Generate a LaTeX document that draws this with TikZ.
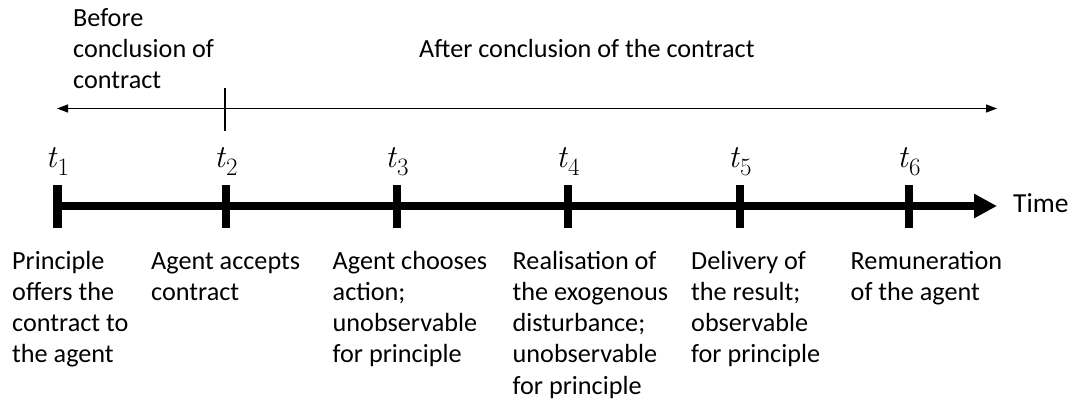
\documentclass[tikz,border=0pt]{standalone}
\usepackage{fontspec}
\setmainfont{Carlito}
\newfontfamily\lmfont{Latin Modern Roman}
\usetikzlibrary{arrows.meta}

\begin{document}
\begin{tikzpicture}[x=1pt,y=-1pt,
  txt/.style={inner sep=0pt, anchor=base west, align=left,
    font=\fontsize{26.2}{31.2}\selectfont},
  tlab/.style={inner sep=0pt, anchor=base},
  axis/.style={line width=8pt, -{Triangle[length=23pt,width=23pt]}},
  tickmark/.style={line width=8.5pt},
  span/.style={line width=1.3pt, {Triangle[length=11pt,width=8pt]}-{Triangle[length=11pt,width=8pt]}},
  divider/.style={line width=1.3pt}
]
\useasboundingbox (0,0) rectangle (1077,404);

% tick positions on the time axis
\foreach \i/\x in {1/57.5,2/226,3/397,4/568,5/740,6/909}{
  \coordinate (top\i) at (\x,185);
  \coordinate (bot\i) at (\x,228);
  \coordinate (lab\i) at (\x,167);
}
\coordinate (axisstart) at (57.5,206);
\coordinate (axisend) at (997,206);

% main time axis
\draw[axis] (axisstart) -- (axisend);
\foreach \i in {1,...,6}{
  \draw[tickmark] (top\i) -- (bot\i);
}
\node[inner sep=0pt, anchor=base west, font=\fontsize{27.5}{30}\selectfont] (time) at (1013,212) {Time};

% time point labels: italic t with a lowered index
\foreach \i in {1,...,6}{
  \node[tlab] (t\i) at (lab\i) {\lmfont\fontsize{32}{34}\selectfont\itshape t\hspace{1.5pt}\upshape\raisebox{-9pt}{\fontsize{25}{26}\selectfont\i}};
}

% phase arrow and separator
\coordinate (spanL) at (57,108.5);
\coordinate (spanR) at (997,108.5);
\coordinate (divT) at (225,88);
\coordinate (divB) at (225,131);
\draw[span] (spanL) -- (spanR);
\draw[divider] (divT) -- (divB);

% multi-line nodes are placed by the baseline of their last line
\node[txt] (before) at (73,88.4) {Before\\conclusion of\\contract};
\node[txt] (after) at (419,58) {After conclusion of the contract};

% events
\node[txt] (e1) at (12,362.9) {Principle\\offers the\\contract to\\the agent};
\node[txt] (e2) at (151,300.5) {Agent accepts\\contract};
\node[txt] (e3) at (332.5,362.9) {Agent chooses\\action;\\unobservable\\for principle};
\node[txt] (e4) at (512.5,394.1) {Realisation of\\the exogenous\\disturbance;\\unobservable\\for principle};
\node[txt] (e5) at (691,362.9) {Delivery of\\the result;\\observable\\for principle};
\node[txt] (e6) at (850.5,300.5) {Remuneration\\of the agent};
\end{tikzpicture}
\end{document}
